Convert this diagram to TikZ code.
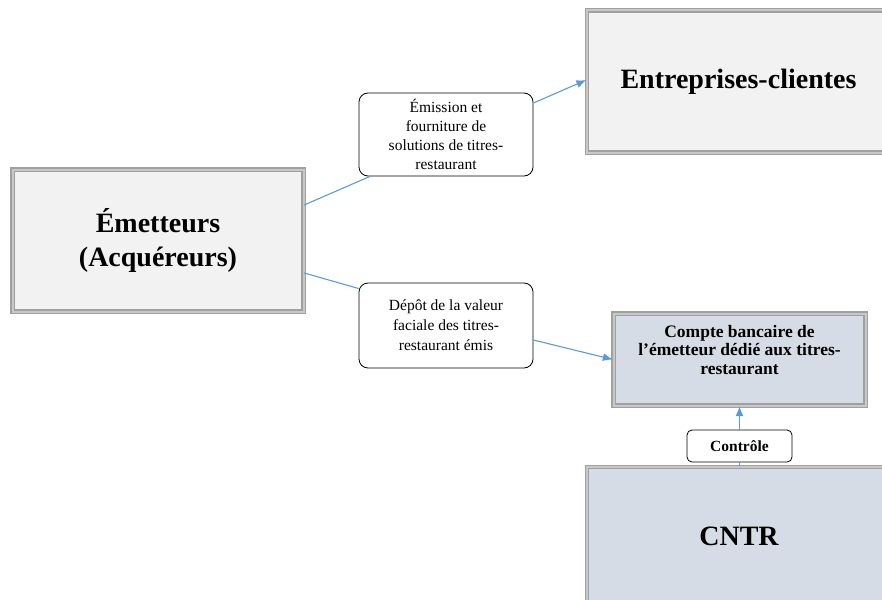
\documentclass[tikz,border=0pt]{standalone}
\usepackage{fontspec}
\setmainfont{Liberation Serif}
\usetikzlibrary{arrows.meta}
\definecolor{boxgray}{HTML}{F2F2F2}
\definecolor{boxblue}{HTML}{D6DCE5}
\definecolor{linkblue}{HTML}{5B9BD5}
\definecolor{rimgray}{HTML}{A0A0A0}
\definecolor{rimlight}{HTML}{C8C8C8}
\begin{document}
\begin{tikzpicture}[x=1pt,y=-1pt,
  bigbox/.style={draw=rimgray, double=rimlight, double distance=2pt, line width=1.3pt, inner sep=0pt, align=center, font=\bfseries},
  labbox/.style={draw=black, line width=0.8pt, rounded corners=9pt, fill=white, inner sep=0pt, align=center},
  link/.style={draw=linkblue, line width=1.1pt},
  linkarrow/.style={link, -{Latex[length=10pt,width=8pt]}}
]
\useasboundingbox (0,0) rectangle (882,599);
\clip (0,0) rectangle (882,599);

\node[bigbox, fill=boxgray, minimum width=291pt, minimum height=142pt,
      font=\fontsize{28}{34}\selectfont\bfseries] (em) at (158,240.5) {Émetteurs\\(Acquéreurs)};
\node[bigbox, fill=boxgray, minimum width=300pt, minimum height=142pt] (ent) at (737,81.5) {};
\node[font=\fontsize{28}{34}\selectfont\bfseries] (entt) at (738.5,82) {Entreprises-clientes};
\node[bigbox, fill=boxblue, minimum width=252pt, minimum height=92pt] (cb) at (739.5,359.5) {};
\node[font=\fontsize{17.5}{18.5}\selectfont\bfseries, align=center] (cbt) at (739.5,350) {Compte bancaire de\\l’émetteur dédié aux titres-\\restaurant};
\node[bigbox, fill=boxblue, minimum width=300pt, minimum height=140pt] (cntr) at (737,537) {};
\node[font=\fontsize{28}{34}\selectfont\bfseries] (cntrt) at (739,536) {CNTR};

\node[labbox, minimum width=174pt, minimum height=83pt,
      font=\fontsize{15.5}{19}\selectfont] (emis) at (446,134.5) {Émission et\\fourniture de\\solutions de titres-\\restaurant};
\node[labbox, minimum width=174pt, minimum height=85pt,
      font=\fontsize{15.5}{20}\selectfont] (depot) at (446,325.5) {Dépôt de la valeur\\faciale des titres-\\restaurant émis};
\node[labbox, rounded corners=5pt, minimum width=105pt, minimum height=32pt,
      font=\fontsize{15.5}{18}\selectfont\bfseries] (ctrl) at (739.5,446) {Contrôle};

\draw[link] ([yshift=35.5pt]em.east) -- ([xshift=-76pt]emis.south);
\draw[linkarrow] ([yshift=31.5pt]emis.east) -- ([yshift=1.5pt]ent.west);
\draw[link] ([yshift=-32.5pt]em.east) -- ([yshift=37pt]depot.west);
\draw[linkarrow] ([yshift=-14.5pt]depot.east) -- (cb.west);
\draw[link] (ctrl.south) -- (ctrl.south |- cntr.north);
\draw[linkarrow] (ctrl.north) -- (ctrl.north |- cb.south);
\end{tikzpicture}
\end{document}
